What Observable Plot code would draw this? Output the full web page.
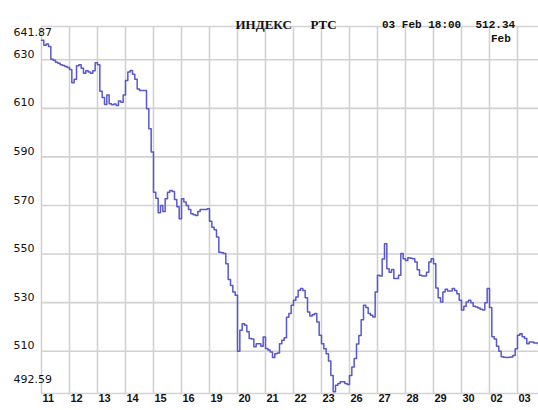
<!DOCTYPE html>
<html>
<head>
<meta charset="utf-8">
<script src="https://cdn.jsdelivr.net/npm/d3@7"></script>
<script src="https://cdn.jsdelivr.net/npm/@observablehq/plot@0.6"></script>
<style>
  html, body { margin: 0; padding: 0; background: #fff; }
  #chart svg { display: block; }
</style>
</head>
<body>
<div id="chart"></div>
<script>
// ---- data ----
const titleParts = ["ИНДЕКС", "РТС"];
const lastStamp = "03 Feb 18:00";
const lastValue = 512.34;
const maxValue = 641.87;
const minValue = 492.59;
const dayLabels = ["11","12","13","14","15","16","19","20","21","22","23","26","27","28","29","30","02","03"];
const monthLabel = { day: 16, text: "Feb" };
const yTicks = [630, 610, 590, 570, 550, 530, 510];
const samplesPerDay = 12;
const values = [
  // 11
  638, 636, 636.5, 635.5, 630.2, 629.8, 629, 628.6, 628, 627.6, 627.2, 626.8,
  // 12
  626, 620.5, 622, 627.5, 628, 626.5, 624.5, 625.5, 625, 624.5, 625.5, 628.8,
  // 13
  628, 617, 614.5, 611.6, 615.5, 611.9, 611.5, 611.8, 611.2, 613, 612.5, 615.5,
  // 14
  621.5, 625, 625.6, 624, 622, 618, 617.4, 617.4, 617.4, 609.8, 601.6, 592,
  // 15
  575.5, 573, 567, 570, 567.5, 572.8, 575.5, 576.2, 575.8, 572.5, 569.5, 564.5,
  // 16
  572.8, 571.4, 570, 568.4, 566.6, 566.2, 565.9, 567.5, 568.4, 568.3, 568.3, 568.7,
  // 19
  563.5, 561, 560, 557, 550.8, 550.5, 550.2, 546, 539.5, 537.1, 534.4, 533,
  // 20
  510, 518.6, 521.3, 520.7, 518, 515.2, 515, 511.8, 513.1, 513.1, 512, 515.9,
  // 21
  511.1, 510.5, 509.7, 507.4, 509, 509.3, 513.1, 514.5, 515.5, 524, 525.5, 528.9,
  // 22
  531, 532.3, 535.1, 535.8, 535, 532, 526.1, 524.5, 525, 525.5, 522, 516.6,
  // 23
  513.1, 511, 509, 506, 500, 493.3, 496, 496.7, 497.4, 497.4, 496.7, 496.3,
  // 26
  500, 503.5, 507, 513, 516.5, 523, 528.9, 528, 525.5, 524.8, 524.1, 534.4,
  // 27
  541.3, 541, 548, 554.3, 544, 542.5, 543.6, 539.9, 539.9, 541.3, 550.2, 548.1,
  // 28
  547.4, 548.5, 548.3, 548.1, 546.7, 543.5, 541.3, 541, 541, 542.5, 546.7, 548.1,
  // 29
  546, 536, 532, 530.3, 534.4, 535.5, 534.8, 534.8, 535.8, 535, 533.7, 531,
  // 30
  527, 528.5, 530.3, 531, 530, 528.5, 528.2, 527.8, 527.3, 527, 530, 535.8,
  // 02
  528, 516, 515, 512, 510, 507.7, 507.5, 507.4, 507.5, 507.6, 508.2, 511,
  // 03
  516.6, 517.2, 516, 515.2, 513.1, 513.8, 513.8, 513.4, 513.4, 512.34
];

// ---- derived tables ----
const series = values.map((v, i) => ({ t: i / samplesPerDay, v }));
const days = dayLabels.map((label, i) => ({ i, label }));
const xMax = (values.length - 1) / samplesPerDay;
const yTop = 643.7;

const gridColor = "#d2d2d2";
const lineColor = "#5858cc";
const numFont = "DejaVu Sans, sans-serif";
const headFont = "Liberation Serif, serif";
const monoFont = "Liberation Mono, monospace";

const chart = Plot.plot({
  width: 538,
  height: 410,
  marginLeft: 41,
  marginRight: 0,
  marginTop: 26,
  marginBottom: 17,
  style: { background: "#fff", color: "#111" },
  x: { domain: [0, xMax], axis: null },
  y: { domain: [minValue, yTop], axis: null },
  marks: [
    Plot.ruleX(days, { x: "i", stroke: gridColor, strokeWidth: 1.6 }),
    Plot.ruleY(yTicks, { stroke: gridColor, strokeWidth: 1.6 }),
    Plot.ruleY([yTop, minValue], { stroke: gridColor, strokeWidth: 1.6 }),
    Plot.line(series, {
      x: "t", y: "v", stroke: lineColor, strokeWidth: 1.5, curve: "step-after"
    }),
    // y labels
    Plot.text(yTicks, {
      y: d => d, text: d => String(d), frameAnchor: "left", dx: -28, dy: -5.5,
      textAnchor: "start", fontSize: 11, fontFamily: numFont, fill: "#111"
    }),
    Plot.text([maxValue], {
      y: d => d, text: d => d.toFixed(2), frameAnchor: "left", dx: -28, dy: 1.3,
      textAnchor: "start", fontSize: 11, fontFamily: numFont, fill: "#111"
    }),
    Plot.text([minValue], {
      y: d => d, text: d => d.toFixed(2), frameAnchor: "left", dx: -28, dy: -14,
      textAnchor: "start", fontSize: 11, fontFamily: numFont, fill: "#111"
    }),
    // x labels
    Plot.text(days, {
      x: "i", text: "label", frameAnchor: "bottom", dx: 1, dy: 8,
      textAnchor: "start", fontSize: 11, fontFamily: "Liberation Sans, sans-serif",
      fontWeight: "bold", fill: "#111"
    }),
    // month label
    Plot.text([monthLabel], {
      x: d => d.day, text: "text", frameAnchor: "top", dx: 1.5, dy: 8,
      textAnchor: "start", fontSize: 11, fontFamily: monoFont,
      fontWeight: "bold", fill: "#111"
    }),
    // header
    Plot.text([titleParts[0]], {
      frameAnchor: "top-left", dx: 194, dy: -7, textAnchor: "start",
      fontSize: 13, fontFamily: headFont, fontWeight: "bold", fill: "#111"
    }),
    Plot.text([titleParts[1]], {
      frameAnchor: "top-left", dx: 269, dy: -7, textAnchor: "start",
      fontSize: 13, fontFamily: headFont, fontWeight: "bold", fill: "#111"
    }),
    Plot.text([lastStamp], {
      frameAnchor: "top-left", dx: 340.5, dy: -6.5, textAnchor: "start",
      fontSize: 11, fontFamily: monoFont, fontWeight: "bold", fill: "#111"
    }),
    Plot.text([lastValue], {
      text: d => d.toFixed(2), frameAnchor: "top-left", dx: 434, dy: -6.5, textAnchor: "start",
      fontSize: 11, fontFamily: monoFont, fontWeight: "bold", fill: "#111"
    })
  ]
});
document.getElementById("chart").appendChild(chart);
</script>
</body>
</html>
